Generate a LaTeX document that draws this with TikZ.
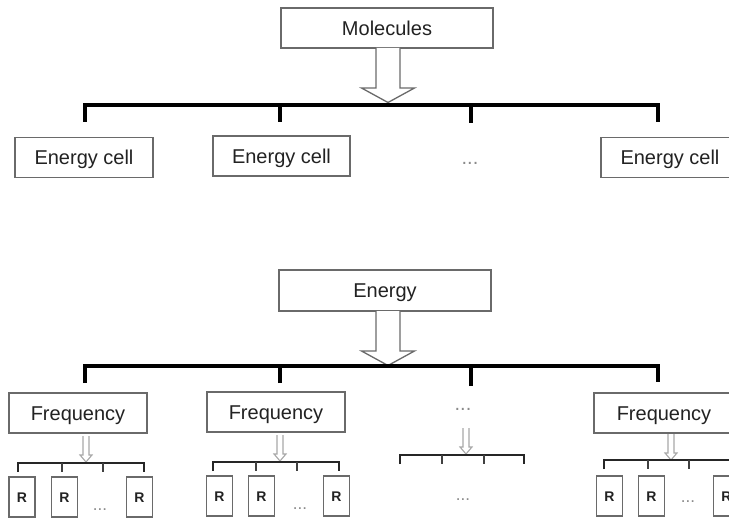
\documentclass[tikz,border=0pt]{standalone}
\usepackage{fontspec}
\setmainfont{Liberation Sans}
\usetikzlibrary{calc}
\definecolor{boxgray}{HTML}{6A6A6A}
\definecolor{txt}{HTML}{222222}
\definecolor{lightarrow}{HTML}{A8A8A8}
\definecolor{dotgray}{HTML}{8A8A8A}
\tikzset{
  bigbox/.style={draw=boxgray, line width=1.3pt, fill=white, minimum width=212pt,
    minimum height=40pt, inner sep=0pt, text=txt, text height=14.5pt, text depth=0pt,
    font=\fontsize{20}{24}\selectfont},
  midbox/.style={bigbox, minimum width=138pt},
  rbox/.style={draw=boxgray, line width=1.2pt, minimum width=26pt, minimum height=40pt,
    inner sep=0pt, text=txt, text height=10pt, text depth=0pt,
    font=\fontsize{14}{16}\selectfont\bfseries},
  dotstext/.style={text=dotgray, inner sep=0pt, font=\fontsize{17}{20}\selectfont},
  bigdots/.style={dotstext, font=\fontsize{20}{24}\selectfont},
  thickbar/.style={draw=black, line width=4.5pt, line cap=butt, line join=miter},
  thinbar/.style={draw=black!85, line width=1.8pt, line cap=butt, line join=miter},
  thintick/.style={draw=black!75, line width=1.2pt},
  bigarr/.pic={\draw[draw=boxgray, line width=1.3pt, fill=white, line join=miter]
    (-12,0) -- (-12,40) -- (-26.5,40) -- (0,54.5) -- (26.5,40) -- (12,40) -- (12,0);},
  smallarr/.pic={\draw[draw=lightarrow, line width=1.1pt, fill=white, line join=miter]
    (-3,0) -- (-3,19) -- (-6,19) -- (0,26) -- (6,19) -- (3,19) -- (3,0);}
}
\begin{document}
\begin{tikzpicture}[x=1pt, y=-1pt]
\useasboundingbox (0,0) rectangle (729,519);

% ---------------- Top section ----------------
\node[bigbox] (mol) at (387,28) {Molecules};
\pic at (388,48) {bigarr};

\coordinate (ta1) at (85,122);
\coordinate (ta2) at (280,122);
\coordinate (ta3) at (471,123);
\coordinate (ta4) at (656,122);
\draw[thickbar] (ta1) -- (85,105) -- (658,105) -- (658,122);
\draw[thickbar] (ta2) -- (280,105);
\draw[thickbar] (ta3) -- (471,105);

\node[midbox] (ec1) at (84,157.5) {Energy cell};
\node[midbox, minimum width=137pt] (ec2) at (281.5,156) {Energy cell};
\node[bigdots] (ecd) at (470,163) {...};
\node[midbox] (ec3) at (670,157.5) {Energy cell};

% ---------------- Bottom section ----------------
\node[bigbox, minimum height=41pt] (en) at (385,290.5) {Energy};
\pic at (388,311) {bigarr};

\coordinate (tb1) at (85,383);
\coordinate (tb2) at (280,383);
\coordinate (tb3) at (471,386);
\coordinate (tb4) at (656,382);
\draw[thickbar] (tb1) -- (85,366) -- (658,366) -- (658,382);
\draw[thickbar] (tb2) -- (280,366);
\draw[thickbar] (tb3) -- (471,366);

\node[midbox] (fr1) at (78,413) {Frequency};
\node[midbox] (fr2) at (276,412) {Frequency};
\node[bigdots] (frd) at (463,409) {...};
\node[midbox, minimum width=140pt] (fr4) at (664,413) {Frequency};

% small arrows
\pic at (86,436) {smallarr};
\pic at (280,435) {smallarr};
\pic at (466,428) {smallarr};
\pic at (671,434) {smallarr};

% group 1
\draw[thinbar] (18,472) -- (18,463) -- (144,463) -- (144,472);
\draw[thintick] (62,463) -- (62,472);
\draw[thintick] (103,463) -- (103,472);
\node[rbox] (r11) at (22,497) {R};
\node[rbox] (r12) at (64.5,497) {R};
\node[dotstext] (d1) at (100,510) {...};
\node[rbox] (r13) at (139.5,497) {R};

% group 2
\draw[thinbar] (213,471) -- (213,462) -- (339,462) -- (339,471);
\draw[thintick] (256,462) -- (256,471);
\draw[thintick] (297,462) -- (297,471);
\node[rbox] (r21) at (219.5,496) {R};
\node[rbox] (r22) at (261.5,496) {R};
\node[dotstext] (d2) at (300,509) {...};
\node[rbox] (r23) at (336.5,496) {R};

% group 3
\draw[thinbar] (400,464) -- (400,455) -- (524,455) -- (524,464);
\draw[thintick] (442,455) -- (442,464);
\draw[thintick] (484,455) -- (484,464);
\node[dotstext] (d3) at (463,500) {...};

% group 4
\draw[thinbar] (604,469) -- (604,460) -- (731,460) -- (731,469);
\draw[thintick] (648,460) -- (648,469);
\draw[thintick] (689,460) -- (689,469);
\node[rbox] (r41) at (609.5,496) {R};
\node[rbox] (r42) at (651.5,496) {R};
\node[dotstext] (d4) at (688,502) {...};
\node[rbox] (r43) at (726.5,496) {R};
\end{tikzpicture}
\end{document}
